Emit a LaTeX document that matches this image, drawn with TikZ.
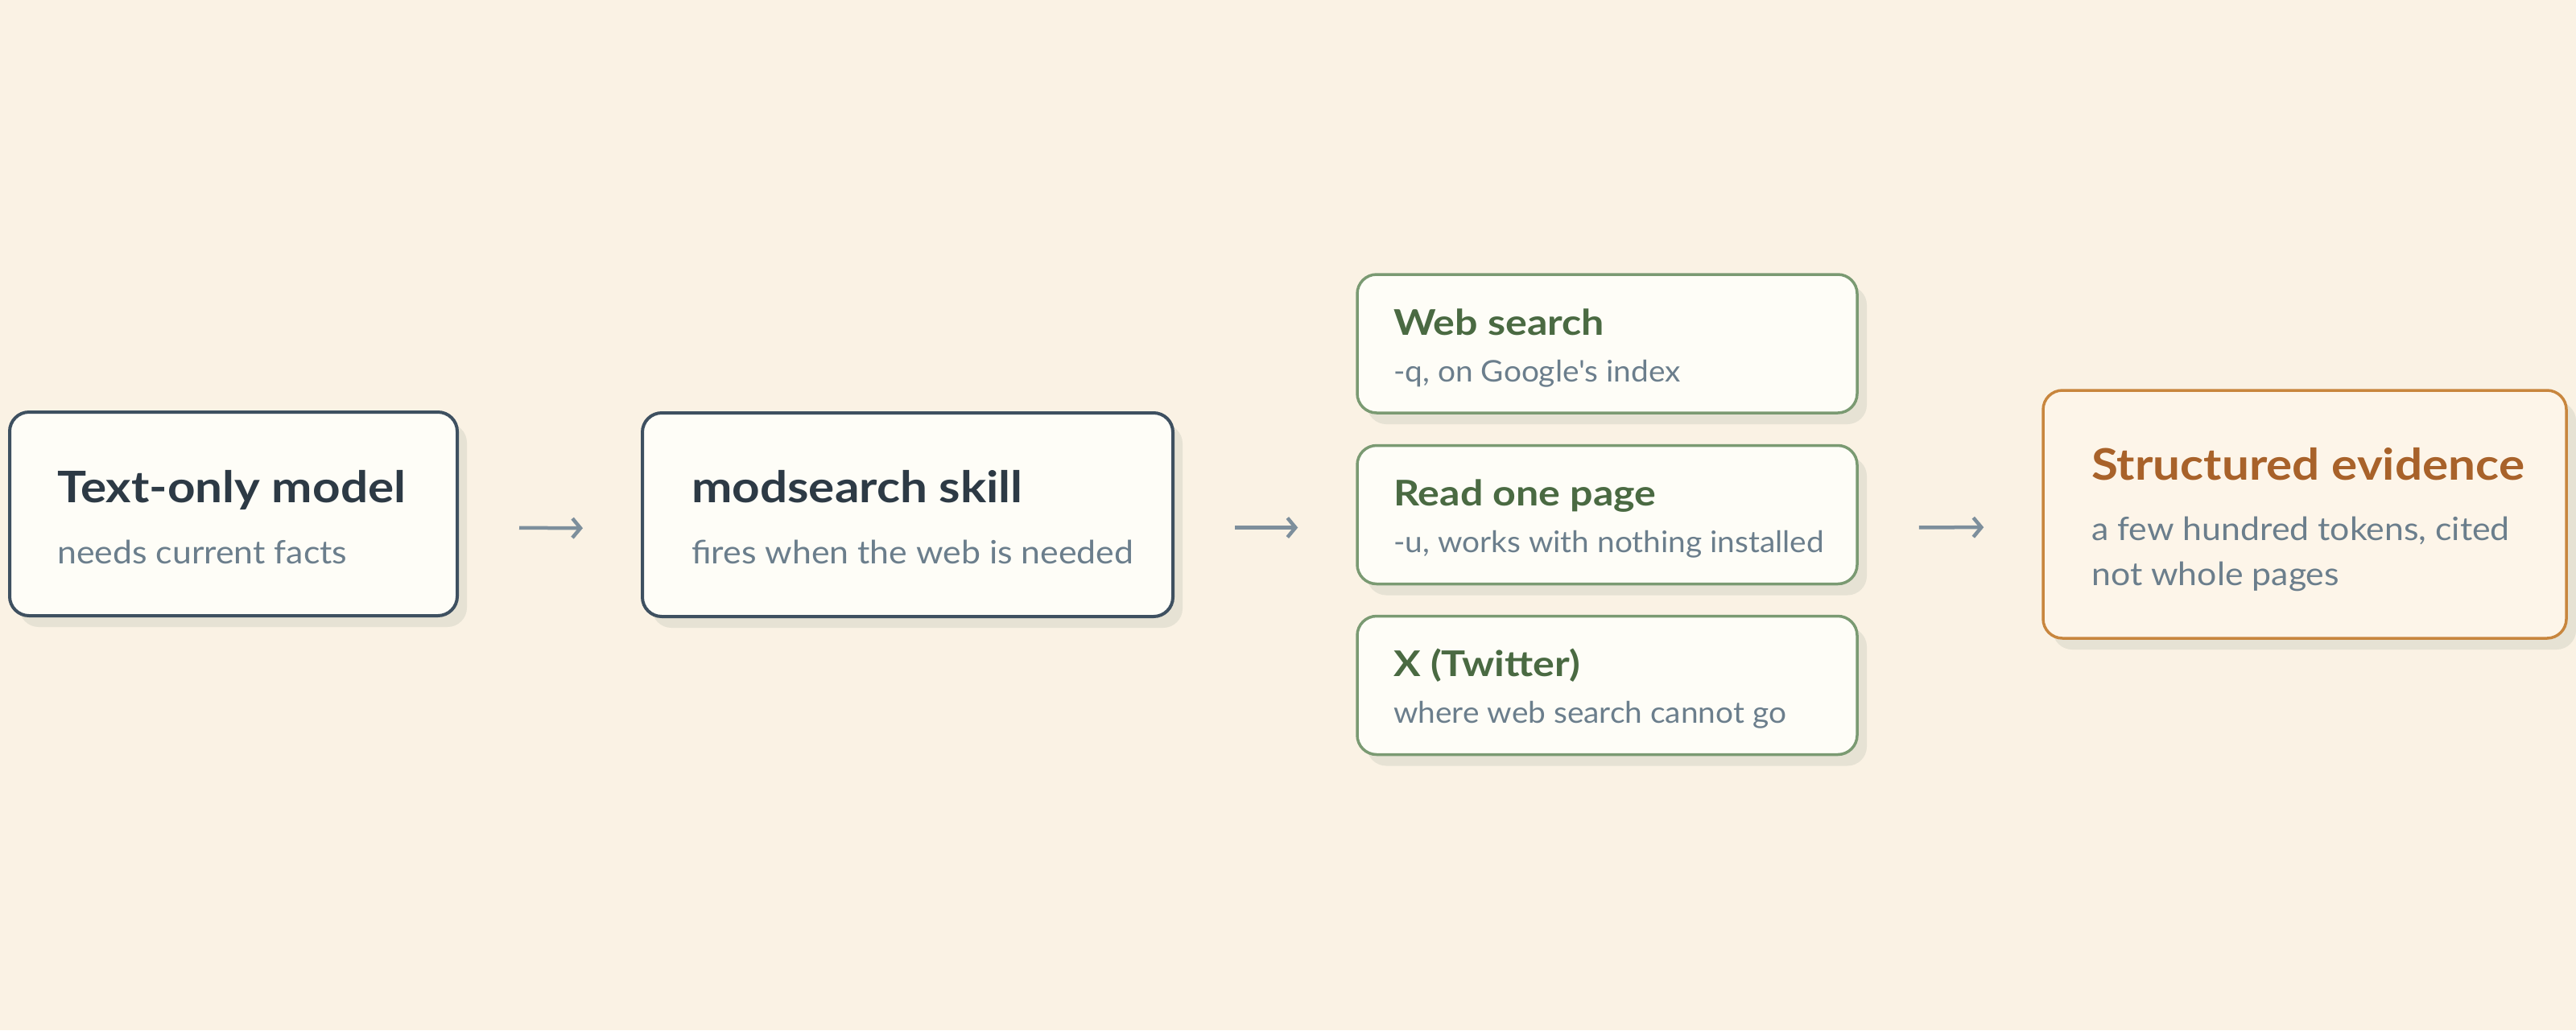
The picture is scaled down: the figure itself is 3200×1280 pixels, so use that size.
\documentclass[tikz,border=0pt]{standalone}
\usepackage{fontspec}
\setmainfont{Lato}
\newfontfamily\titlefamily{Lato}[FakeStretch=1.115]
\newfontfamily\gtitlefamily{Lato}[FakeStretch=1.14]
\newfontfamily\subfamily{Lato}[FakeStretch=1.07, Ligatures=TeXOff]
\newfontfamily\gsubfamily{Lato}[FakeStretch=1.05, Ligatures=TeXOff]
\usetikzlibrary{arrows.meta,shadows}
\definecolor{bgc}{RGB}{250,242,228}
\definecolor{boxfill}{RGB}{254,253,247}
\definecolor{shadowc}{RGB}{230,226,212}
\definecolor{darkborder}{RGB}{62,80,96}
\definecolor{darktitle}{RGB}{45,58,69}
\definecolor{subc}{RGB}{107,126,140}
\definecolor{greenborder}{RGB}{122,154,114}
\definecolor{greentitle}{RGB}{74,106,66}
\definecolor{orangeborder}{RGB}{200,134,62}
\definecolor{orangetitle}{RGB}{168,98,42}
\definecolor{orangefill}{RGB}{253,245,233}
\definecolor{arrowc}{RGB}{125,143,156}
\tikzset{
  boxbase/.style={rectangle, rounded corners=24pt, inner sep=0pt, fill=boxfill,
    drop shadow={shadow xshift=12pt, shadow yshift=-14pt, fill=shadowc, opacity=1}},
  darkbox/.style={boxbase, draw=darkborder, line width=4pt},
  greenbox/.style={boxbase, draw=greenborder, line width=3.5pt, minimum width=621pt, minimum height=172pt},
  orangebox/.style={boxbase, draw=orangeborder, fill=orangefill, line width=3.5pt},
  txt/.style={inner sep=0pt, anchor=base west},
  bigtitle/.style={txt, text=darktitle, font=\titlefamily\fontsize{54}{60}\selectfont\bfseries},
  bigsub/.style={txt, text=subc, font=\subfamily\fontsize{40}{46}\selectfont},
  gtitle/.style={txt, text=greentitle, font=\gtitlefamily\fontsize{44}{50}\selectfont\bfseries},
  gsub/.style={txt, text=subc, font=\gsubfamily\fontsize{37}{42}\selectfont},
  otitle/.style={bigtitle, text=orangetitle},
  conn/.style={draw=arrowc, line width=4.5pt, -{Straight Barb[length=10pt,width=24pt]},
    shorten <=75pt, shorten >=72pt},
}
\begin{document}
\begin{tikzpicture}[x=1pt,y=-1pt]
\fill[bgc] (0,0) rectangle (3200,1280);
\useasboundingbox (0,0) rectangle (3200,1280);

\node[darkbox, minimum width=556pt, minimum height=253pt] (b1) at (290,638.5) {};
\node[darkbox, minimum width=659pt, minimum height=253pt] (b2) at (1127.5,639.5) {};
\node[greenbox] (g1) at (1996.5,427) {};
\node[greenbox] (g2) at (1996.5,639.5) {};
\node[greenbox] (g3) at (1996.5,851.5) {};
\node[orangebox, minimum width=650pt, minimum height=308pt] (o1) at (2863,639) {};

\node[bigtitle] (b1t) at (71,624) {Text-only model};
\node[bigsub] (b1s) at (71,700) {needs current facts};
\node[bigtitle] (b2t) at (859,624) {modsearch skill};
\node[bigsub] (b2s) at (859,700) {fires when the web is needed};

\node[gtitle] (g1t) at (1731,416) {Web search};
\node[gsub] (g1s) at (1731,474) {-q, on Google's index};
\node[gtitle] (g2t) at (1731,628) {Read one page};
\node[gsub] (g2s) at (1731,686) {-u, works with nothing installed};
\node[gtitle] (g3t) at (1731,840) {X (Twitter)};
\node[gsub] (g3s) at (1731,898) {where web search cannot go};

\node[otitle] (ot) at (2598,596) {Structured evidence};
\node[bigsub] (os1) at (2598,671) {a few hundred tokens, cited};
\node[bigsub] (os2) at (2598,727) {not whole pages};

\draw[conn] ([yshift=-17pt]b1.east) -- ([yshift=-17pt]b2.west);
\draw[conn] ([yshift=-16pt]b2.east) -- ([yshift=-16pt]g2.west);
\draw[conn] ([yshift=-16pt]g2.east) -- ([yshift=-16pt]o1.west);
\end{tikzpicture}
\end{document}
